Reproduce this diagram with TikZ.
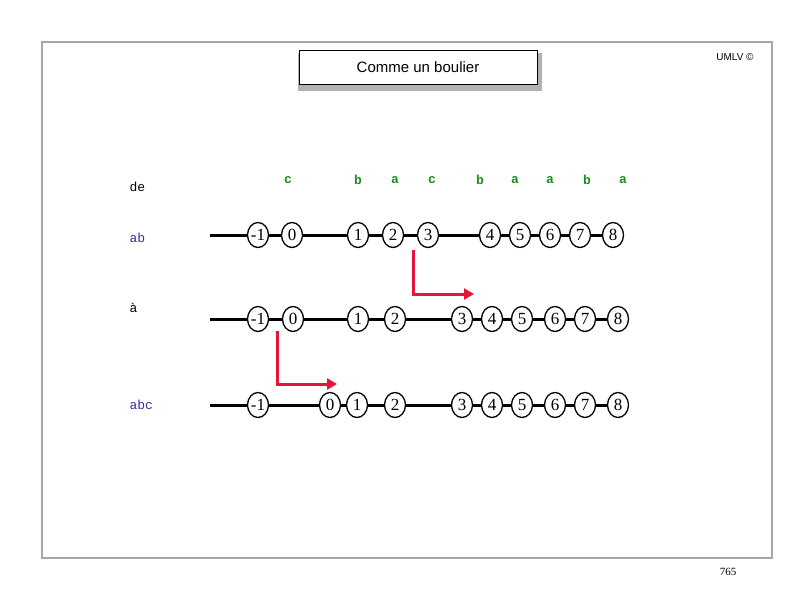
\documentclass[tikz,border=0pt]{standalone}
\usepackage{fontspec}
\setmainfont{Liberation Serif}
\setsansfont{Liberation Sans}
\setmonofont{Liberation Mono}
\usetikzlibrary{arrows.meta,shapes.geometric}
\definecolor{grn}{RGB}{30,140,30}
\definecolor{blu}{RGB}{50,50,160}
\definecolor{rd}{RGB}{230,20,60}
\begin{document}
\begin{tikzpicture}[x=1pt,y=-1pt,
  bead/.style={draw,line width=1.3pt,ellipse,minimum width=21pt,minimum height=25pt,inner sep=0pt,fill=white,font=\fontsize{17}{17}\selectfont},
  wire/.style={line width=3pt},
  lett/.style={text=grn,font=\ttfamily\fontsize{13}{13}\selectfont\bfseries},
  lab/.style={font=\ttfamily\fontsize{13}{13}\selectfont,anchor=west},
  redarr/.style={rd,line width=3pt,-{Triangle[length=10pt,width=11pt]}}]
\useasboundingbox (0,0) rectangle (809,600);
\draw[gray!70,line width=1.2pt] (42,42) rectangle (772,558);
\fill[gray!60] (298,53) rectangle (542,91);
\node[draw,line width=1pt,fill=white,minimum width=238pt,minimum height=34pt,font=\sffamily\fontsize{15}{15}\selectfont] (title) at (418,67) {Comme un boulier};
\node[font=\sffamily\fontsize{10}{10}\selectfont] (umlv) at (735,57) {UMLV ©};
\node[font=\fontsize{11}{11}\selectfont] (pg) at (728,572) {765};
\node[lab] (l1) at (126,187) {de};
\node[lab,text=blu] (l2) at (126,238) {ab};
\node[lab] (l3) at (126,308) {à};
\node[lab,text=blu] (l4) at (126,405) {abc};
\foreach \t/\x [count=\i] in {c/288,b/358,a/395,c/432,b/480,a/515,a/550,b/587,a/623}
  \node[lett] (t\i) at (\x,180) {\t};
\coordinate (s1) at (210,235);
\coordinate (s2) at (210,319);
\coordinate (s3) at (210,405);
\draw[wire] (s1) -- (613,235);
\draw[wire] (s2) -- (618,319);
\draw[wire] (s3) -- (618,405);
\foreach \n/\x [count=\i] in {-1/258,0/292,1/358,2/393,3/428,4/490,5/520,6/550,7/580,8/613}
  \node[bead] (a\i) at (\x,235) {\n};
\foreach \n/\x [count=\i] in {-1/258,0/293,1/358,2/395,3/462,4/492,5/522,6/555,7/585,8/618}
  \node[bead] (b\i) at (\x,319) {\n};
\foreach \n/\x [count=\i] in {-1/258,0/330,1/357,2/395,3/462,4/492,5/522,6/555,7/585,8/618}
  \node[bead] (c\i) at (\x,405) {\n};
\coordinate (r1a) at (413,250);
\coordinate (r1b) at (413,294);
\coordinate (r1c) at (474,294);
\draw[redarr] (r1a) -- (r1b) -- (r1c);
\coordinate (r2a) at (277,331);
\coordinate (r2b) at (277,384);
\coordinate (r2c) at (337,384);
\draw[redarr] (r2a) -- (r2b) -- (r2c);
\end{tikzpicture}
\end{document}
